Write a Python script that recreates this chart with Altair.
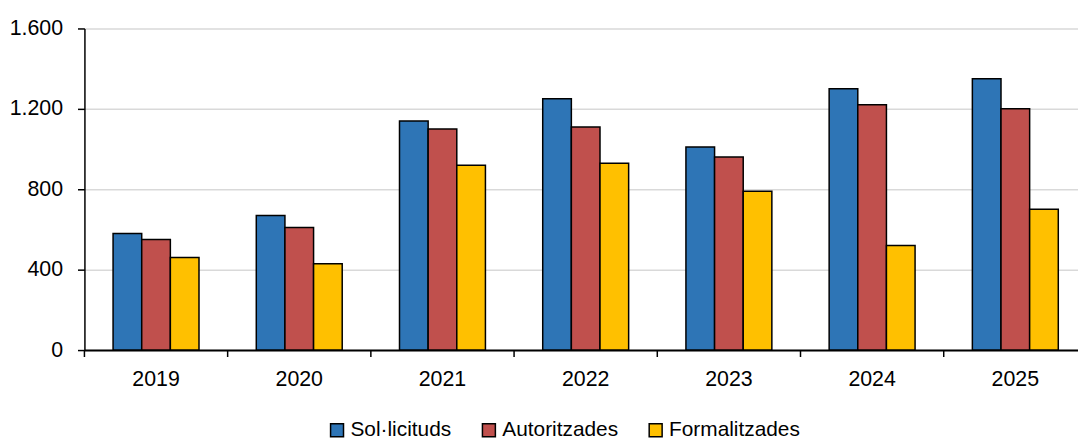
import altair as alt
import pandas as pd

years = ["2019", "2020", "2021", "2022", "2023", "2024", "2025"]
series_names = ["Sol·licituds", "Autoritzades", "Formalitzades"]
sollicituds = [580, 670, 1140, 1250, 1010, 1300, 1350]
autoritzades = [550, 610, 1100, 1110, 960, 1220, 1200]
formalitzades = [460, 430, 920, 930, 790, 520, 700]
colors = ["#2E75B6", "#C0504D", "#FFC000"]
y_ticks = [0, 400, 800, 1200, 1600]

rows = []
for name, vals in zip(series_names, [sollicituds, autoritzades, formalitzades]):
    for yr, v in zip(years, vals):
        rows.append({"any": yr, "serie": name, "valor": v})
df = pd.DataFrame(rows)
ticks_df = pd.DataFrame({"any": years})

FONT = "Liberation Sans"
FS = 21.5

x_enc = alt.X(
    "any:N",
    sort=years,
    title=None,
    scale=alt.Scale(paddingInner=0, paddingOuter=0, range=[0, 1010]),
    axis=alt.Axis(
        ticks=False,
        labelAngle=0,
        labelFont=FONT,
        labelFontSize=FS,
        labelColor="black",
        labelPadding=19,
        domainColor="black",
        domainWidth=2,
        grid=False,
    ),
)

bars = alt.Chart(df).mark_bar(stroke="black", strokeWidth=1.5).encode(
    x=x_enc,
    xOffset=alt.XOffset("serie:N", sort=series_names,
                        scale=alt.Scale(paddingInner=0, paddingOuter=1)),
    y=alt.Y(
        "valor:Q",
        title=None,
        scale=alt.Scale(domain=[0, 1600], nice=False),
        axis=alt.Axis(
            values=y_ticks,
            labelExpr="replace(format(datum.value, ','), ',', '.')",
            labelFont=FONT,
            labelFontSize=FS,
            labelColor="black",
            labelPadding=15,
            tickColor="black",
            tickSize=7,
            tickWidth=1.5,
            domainColor="black",
            domainWidth=1.5,
            gridColor="#d9d9d9",
            gridWidth=1.5,
        ),
    ),
    color=alt.Color(
        "serie:N",
        sort=series_names,
        scale=alt.Scale(domain=series_names, range=colors),
        legend=alt.Legend(
            orient="none",
            legendX=244,
            legendY=394,
            direction="horizontal",
            title=None,
            symbolType="square",
            symbolSize=170,
            symbolStrokeColor="black",
            symbolStrokeWidth=1.5,
            symbolOpacity=1,
            labelFont=FONT,
            labelFontSize=21,
            labelColor="black",
            labelOffset=3,
            columnPadding=27,
        ),
    ),
)

tick_rules = alt.Chart(ticks_df).mark_rule(color="black", strokeWidth=1.5).encode(
    x=alt.X("any:N", sort=years, bandPosition=0),
    y=alt.value(324),
    y2=alt.value(331),
)

chart = alt.layer(bars, tick_rules).properties(
    width=1001,
    height=324,
    autosize=alt.AutoSizeParams(type="none"),
    padding={"left": 77, "top": 19, "right": 0, "bottom": 90},
).configure_view(stroke=None)

chart.save("out.html", embed_options={"renderer": "svg", "actions": False})
